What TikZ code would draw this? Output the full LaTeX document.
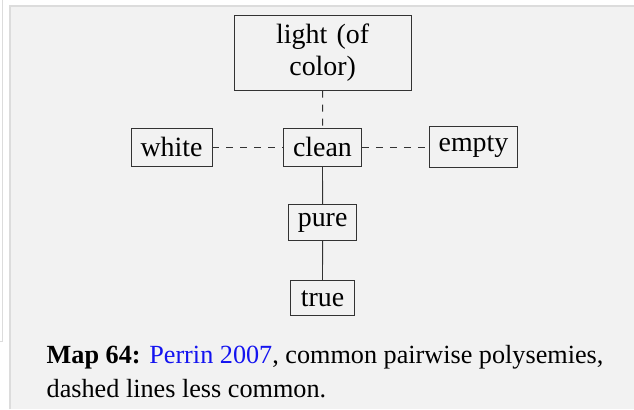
\documentclass[tikz,border=0pt]{standalone}
\usepackage{fontspec}
\setmainfont{Liberation Serif}
\definecolor{panelgray}{HTML}{F2F2F2}
\definecolor{edgegray}{HTML}{DCDCDC}
\definecolor{boxline}{HTML}{333333}
\definecolor{linkblue}{HTML}{1414F0}
\begin{document}
\begin{tikzpicture}[x=1bp,y=-1bp,font=\fontsize{28}{32}\selectfont,sense/.style={draw=boxline, line width=0.9bp, inner xsep=9.5bp, inner ysep=4bp, align=center},link/.style={draw=boxline, line width=0.9bp},weak/.style={link, dash pattern=on 7bp off 7bp}]
\useasboundingbox (0,0) rectangle (634,409);
\fill[white] (0,0) rectangle (634,409);
\draw[edgegray] (2,0) -- (2,341) -- (0,341);
\fill[panelgray] (10,6) rectangle (634,409);
\draw[edgegray, line width=1.2bp] (10,409) -- (10,6) -- (634,6);
\node[sense, minimum width=177bp, minimum height=75bp, text width=130bp] (light) at (322.7,52.7) {light (of color)};
\node[sense, minimum height=38bp] (clean) at (322.5,147) {clean};
\node[sense, minimum height=38bp] (white) at (171.5,147) {white};
\node[sense, minimum height=41bp] (empty) at (473.5,147) {empty};
\node[sense, minimum height=36bp] (pure) at (322.6,222.5) {pure};
\node[sense, minimum height=35bp, minimum width=64bp] (true) at (322.5,298.3) {true};
\draw[weak] (light) -- (clean);
\draw[weak] (white) -- (clean);
\draw[weak] (clean) -- (empty);
\draw[link] (clean) -- (pure);
\draw[link] (pure) -- (true);
\node[anchor=base west, align=left, inner sep=0pt, font=\fontsize{26.3}{34}\selectfont] (caption) at (46.5,397) {\textbf{Map 64:} \textcolor{linkblue}{Perrin 2007}, common pairwise polysemies,\\dashed lines less common.};
\end{tikzpicture}
\end{document}
